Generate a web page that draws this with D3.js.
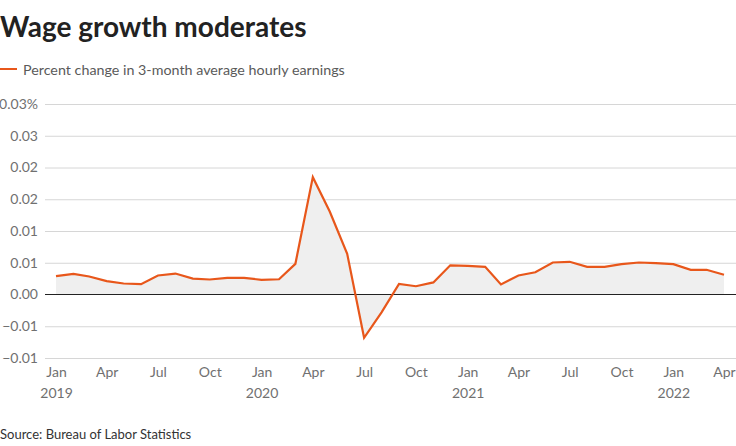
<!DOCTYPE html>
<html>
<head>
<meta charset="utf-8">
<script src="https://cdn.jsdelivr.net/npm/d3@7"></script>
<style>
  html, body { margin: 0; padding: 0; background: #fff; }
  svg { display: block; }
  text { font-family: "Source Sans Pro", Lato, "Open Sans", sans-serif; }
</style>
</head>
<body>
<svg id="chart" width="736" height="446"></svg>
<script>
const title = "Wage growth moderates";
const legendLabel = "Percent change in 3-month average hourly earnings";
const source = "Source: Bureau of Labor Statistics";

const startMonth = "2019-01";
const values = [
  0.00288, 0.00326, 0.00283, 0.00210, 0.00173, 0.00163,
  0.00300, 0.00330, 0.00250, 0.00236, 0.00263, 0.00263,
  0.00230, 0.00240, 0.00483, 0.01848, 0.01307, 0.00640,
  -0.00682, -0.00280, 0.00168, 0.00130, 0.00190, 0.00460,
  0.00450, 0.00436, 0.00158, 0.00300, 0.00350, 0.00504,
  0.00515, 0.00436, 0.00436, 0.00477, 0.00504, 0.00493,
  0.00477, 0.00389, 0.00389, 0.00310
];

const yTickValues = [0.03, 0.025, 0.02, 0.015, 0.01, 0.005, 0, -0.005, -0.01];
const yTickLabels = ["0.03%", "0.03", "0.02", "0.02", "0.01", "0.01", "0.00", "\u22120.01", "\u22120.01"];
const xTickMonths = ["2019-01","2019-04","2019-07","2019-10","2020-01","2020-04","2020-07","2020-10","2021-01","2021-04","2021-07","2021-10","2022-01","2022-04"];
const xTickLabels = ["Jan","Apr","Jul","Oct","Jan","Apr","Jul","Oct","Jan","Apr","Jul","Oct","Jan","Apr"];
const xTickYears  = ["2019","","","","2020","","","","2021","","","","2022",""];

const parse = d3.timeParse("%Y-%m");
const start = parse(startMonth);
const data = values.map((v, i) => ({ date: d3.timeMonth.offset(start, i), value: v }));

const svg = d3.select("#chart");
const lineColor = "#e8571b";
const labelFont = "'Source Sans Pro', Lato, 'Open Sans', sans-serif";

const x = d3.scaleTime()
  .domain([data[0].date, data[data.length - 1].date])
  .range([56, 724]);
const y = d3.scaleLinear().domain([-0.01, 0.03]).range([358, 104]);

// Title
svg.append("text")
  .attr("x", 0).attr("y", 37)
  .attr("font-size", 28).attr("font-weight", 700).attr("fill", "#222")
  .text(title);

// Legend
svg.append("line")
  .attr("x1", 0).attr("x2", 17).attr("y1", 69).attr("y2", 69)
  .attr("stroke", lineColor).attr("stroke-width", 2);
svg.append("text")
  .attr("x", 23).attr("y", 74.5)
  .attr("font-size", 14.3).attr("fill", "#5a5a5a")
  .text(legendLabel);

// Gridlines + y labels
const yAxis = d3.axisLeft(y)
  .tickValues(yTickValues)
  .tickSize(0)
  .tickFormat((d, i) => yTickLabels[i]);
const gy = svg.append("g").attr("transform", "translate(45,0)").call(yAxis);
gy.select(".domain").remove();
gy.selectAll("text")
  .attr("x", -7).attr("dy", "0.32em")
  .attr("font-size", 14).attr("fill", "#707070")
  .style("font-family", labelFont);
gy.selectAll(".tick").append("line")
  .attr("x1", 0).attr("x2", 736 - 45)
  .attr("stroke", d => d === 0 ? "none" : "#d6d6d6")
  .attr("stroke-width", 1);

// Area
const area = d3.area()
  .x(d => x(d.date))
  .y0(y(0))
  .y1(d => y(d.value));
svg.append("path").datum(data)
  .attr("d", area)
  .attr("fill", "#efefef");

// Zero line
svg.append("line")
  .attr("x1", 45).attr("x2", 736)
  .attr("y1", y(0)).attr("y2", y(0))
  .attr("stroke", "#222").attr("stroke-width", 1.2);

// Line
const line = d3.line()
  .x(d => x(d.date))
  .y(d => y(d.value));
svg.append("path").datum(data)
  .attr("d", line)
  .attr("fill", "none")
  .attr("stroke", lineColor)
  .attr("stroke-width", 2.2)
  .attr("stroke-linejoin", "miter");

// X axis
const xTickDates = xTickMonths.map(parse);
const xAxis = d3.axisBottom(x)
  .tickValues(xTickDates)
  .tickSize(0)
  .tickFormat((d, i) => xTickLabels[i]);
const gx = svg.append("g").attr("transform", "translate(0,358)").call(xAxis);
gx.select(".domain").remove();
gx.selectAll("text")
  .attr("y", 9).attr("dy", "0.71em")
  .attr("font-size", 14).attr("fill", "#707070")
  .style("font-family", labelFont);
gx.selectAll(".tick").append("text")
  .attr("y", 30).attr("dy", "0.71em")
  .attr("text-anchor", "middle")
  .attr("font-size", 14).attr("fill", "#707070")
  .style("font-family", labelFont)
  .text((d, i) => xTickYears[i]);

// Source
svg.append("text")
  .attr("x", 0).attr("y", 439)
  .attr("font-size", 13).attr("fill", "#333")
  .text(source);
</script>
</body>
</html>
